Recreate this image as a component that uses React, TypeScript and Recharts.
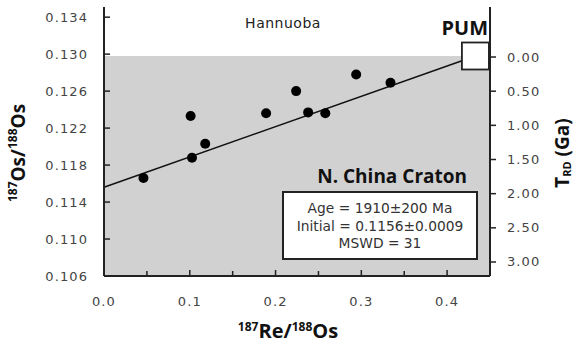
import React from 'react';
import { ComposedChart, Scatter, XAxis, YAxis, ReferenceArea, ReferenceLine } from 'recharts';

// 187Re/188Os (x) and 187Os/188Os (y) of Hannuoba samples
const reOs = [0.046, 0.101, 0.1026, 0.118, 0.189, 0.224, 0.238, 0.258, 0.294, 0.334];
const osOs = [0.1166, 0.1233, 0.1188, 0.1203, 0.1236, 0.126, 0.1237, 0.1236, 0.1278, 0.1269];
// Primitive upper mantle reference point
const pumX = 0.433;
const pumY = 0.1298;
// Isochron initial ratio
const initialRatio = 0.1156;

const xTicks = [0, 0.05, 0.1, 0.15, 0.2, 0.25, 0.3, 0.35, 0.4];
const yTicks = [0.106, 0.108, 0.11, 0.112, 0.114, 0.116, 0.118, 0.12, 0.122, 0.124, 0.126, 0.128, 0.13, 0.132, 0.134];
const tTicks = [0, 0.25, 0.5, 0.75, 1, 1.25, 1.5, 1.75, 2, 2.25, 2.5, 2.75, 3];
const statLines = ['Age = 1910\u00b1200 Ma', 'Initial = 0.1156\u00b10.0009', 'MSWD = 31'];

const samples = reOs.map((x, i) => ({ x, y: osOs[i] }));
const pum = [{ x: pumX, y: pumY }];

const tickFont = { fontFamily: 'DejaVu Sans', fontSize: 13, fill: '#444', letterSpacing: 1.1 } as const;
const axisStroke = { stroke: '#222', strokeWidth: 2 };

const XTick = (p: any) => {
  const v = p.payload.value;
  const major = Math.abs(Math.round(v * 10) - v * 10) < 1e-6;
  return (
    <g>
      <line x1={p.x} x2={p.x} y1={p.y} y2={p.y - (major ? 6 : 5)} stroke="#222" strokeWidth={1.5} />
      {major && (
        <text x={p.x} y={p.y + 30} textAnchor="middle" {...tickFont}>
          {v.toFixed(1)}
        </text>
      )}
    </g>
  );
};

const YTick = (p: any) => {
  const v = p.payload.value;
  const k = Math.round((v - 0.106) / 0.002);
  const major = k % 2 === 0;
  return (
    <g>
      <line x1={p.x} x2={p.x + (major ? 6 : 4)} y1={p.y} y2={p.y} stroke="#222" strokeWidth={1.5} />
      {major && (
        <text x={p.x - 16} y={p.y} textAnchor="end" dominantBaseline="central" {...tickFont}>
          {v.toFixed(3)}
        </text>
      )}
    </g>
  );
};

const TTick = (p: any) => {
  const v = p.payload.value;
  const major = Math.round(v * 4) % 2 === 0;
  return (
    <g>
      <line x1={p.x} x2={p.x + (major ? 6 : 4)} y1={p.y} y2={p.y} stroke="#222" strokeWidth={1.5} />
      {major && (
        <text x={p.x + 17} y={p.y} textAnchor="start" dominantBaseline="central" {...tickFont}>
          {v.toFixed(2)}
        </text>
      )}
    </g>
  );
};

const Dot = (p: any) => <circle cx={p.cx} cy={p.cy} r={5} fill="#000" />;
const Square = (p: any) => (
  <rect x={p.cx - 13.5} y={p.cy - 13.5} width={27} height={27} fill="#fff" stroke="#222" strokeWidth={1.8} />
);

const boldFont = 'Open Sans';

export default function App() {
  return (
    <div style={{ position: 'absolute', left: 0, top: 0, width: 575, height: 343 }}>
      <ComposedChart width={575} height={343} margin={{ top: 7, right: 35, bottom: 37, left: 44 }}>
        <XAxis
          type="number"
          dataKey="x"
          domain={[0, 0.45]}
          ticks={xTicks}
          tick={<XTick />}
          tickLine={false}
          tickSize={0}
          tickMargin={0}
          axisLine={axisStroke}
          height={30}
          allowDataOverflow
        />
        <XAxis xAxisId="top" orientation="top" type="number" domain={[0, 0.45]} height={0} tick={false} tickLine={false} axisLine={axisStroke} />
        <YAxis
          type="number"
          dataKey="y"
          domain={[0.106, 0.1351]}
          ticks={yTicks}
          tick={<YTick />}
          tickLine={false}
          tickSize={0}
          tickMargin={0}
          axisLine={axisStroke}
          width={60}
          allowDataOverflow
        />
        <YAxis
          yAxisId="t"
          orientation="right"
          type="number"
          reversed
          domain={[-0.732, 3.205]}
          ticks={tTicks}
          tick={<TTick />}
          tickLine={false}
          tickSize={0}
          tickMargin={0}
          axisLine={axisStroke}
          width={50}
          allowDataOverflow
        />
        <ReferenceArea x1={0} x2={0.45} y1={0.106} y2={pumY} fill="#d1d1d1" fillOpacity={1} stroke="none" />
        <ReferenceLine
          segment={[{ x: 0, y: initialRatio }, { x: pumX, y: pumY }]}
          stroke="#111"
          strokeWidth={1.5}
        />
        <Scatter data={samples} shape={<Dot />} isAnimationActive={false} />
        <Scatter data={pum} shape={<Square />} isAnimationActive={false} />
      </ComposedChart>
      <svg
        width={575}
        height={343}
        style={{ position: 'absolute', left: 0, top: 0, pointerEvents: 'none' }}
      >
        <text x={283} y={28} textAnchor="middle" fontFamily="DejaVu Sans" fontSize={14} fill="#222" letterSpacing={0.5}>
          Hannuoba
        </text>
        <text x={488} y={35} textAnchor="end" fontFamily={boldFont} fontWeight="bold" fontSize={20} fill="#111">
          PUM
        </text>
        <text x={467} y={183} textAnchor="end" fontFamily={boldFont} fontWeight="bold" fontSize={19} fill="#111">
          N. China Craton
        </text>
        <rect x={283} y={192} width={194} height={67} fill="#fff" stroke="#222" strokeWidth={2} />
        {statLines.map((s, i) => (
          <text key={i} x={380} y={213 + i * 17.5} textAnchor="middle" fontFamily="DejaVu Sans" fontSize={13.8} fill="#333">
            {s}
          </text>
        ))}
        <text
          x={18}
          y={153}
          transform="rotate(-90, 18, 153)"
          textAnchor="middle"
          dominantBaseline="central"
          fontFamily={boldFont}
          fontWeight="bold"
          fill="#111"
        >
          <tspan fontSize={12} dy={-6}>187</tspan>
          <tspan fontSize={19} dy={6}>Os/</tspan>
          <tspan fontSize={12} dy={-6}>188</tspan>
          <tspan fontSize={19} dy={6}>Os</tspan>
        </text>
        <text
          x={562}
          y={153}
          transform="rotate(-90, 562, 153)"
          textAnchor="middle"
          dominantBaseline="central"
          fontFamily={boldFont}
          fontWeight="bold"
          fill="#111"
        >
          <tspan fontSize={19}>T</tspan>
          <tspan fontSize={11} dy={4}>RD</tspan>
          <tspan fontSize={19} dy={-4}> (Ga)</tspan>
        </text>
        <text x={288} y={338} textAnchor="middle" fontFamily={boldFont} fontWeight="bold" fill="#111">
          <tspan fontSize={12} dy={-7}>187</tspan>
          <tspan fontSize={20} dy={7}>Re/</tspan>
          <tspan fontSize={12} dy={-7}>188</tspan>
          <tspan fontSize={20} dy={7}>Os</tspan>
        </text>
      </svg>
    </div>
  );
}
